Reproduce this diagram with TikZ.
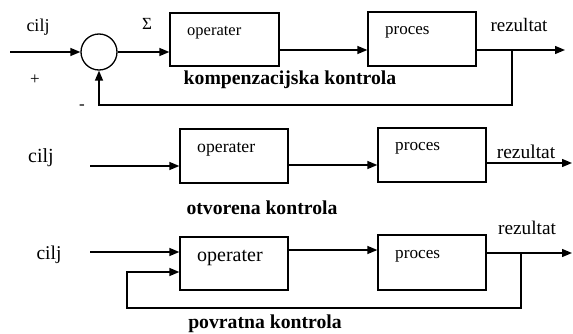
\documentclass[tikz,border=0pt]{standalone}
\usepackage{fontspec}
\setmainfont{Liberation Serif}
\usetikzlibrary{arrows.meta}
\newcommand\fsz[1]{\fontsize{#1}{#1}\selectfont}
\begin{document}
\begin{tikzpicture}[x=1pt,y=-1pt,
  line/.style={line width=1.3pt, draw=black},
  arr/.style={line, -{Triangle[length=10pt,width=8pt]}},
  blk/.style={draw, line width=1.3pt, rectangle, inner sep=0pt},
  txt/.style={inner sep=0pt, font=\fsz{17.5}},
  ttl/.style={inner sep=0pt, font=\fsz{19.7}\bfseries},
]
\useasboundingbox[fill=white] (0,0) rectangle (573,334);

% ---------- kompenzacijska kontrola ----------
\node[draw, circle, line width=1.3pt, minimum size=36pt, inner sep=0pt] (S) at (99,52) {};
\node[blk, minimum width=109pt, minimum height=53pt] (op1) at (224.5,39.5) {};
\node[blk, minimum width=108pt, minimum height=54pt] (pr1) at (422,39) {};
\coordinate (in1) at (10,52);
\coordinate (y1) at (0,50);
\coordinate (out1) at (565,50);
\coordinate (fb1) at (512,50);
\coordinate (fb1b) at (512,105);
\draw[arr] (in1) -- (S);
\draw[arr] (S) -- (S -| op1.west);
\draw[arr] (op1.east |- y1) -- (pr1.west |- y1);
\draw[arr] (pr1.east |- out1) -- (out1);
\draw[arr] (fb1) -- (fb1b) -| (S.south);

\node[txt, font=\fsz{18}] (c1) at (38,27) {cilj};
\node[txt, font=\fsz{17}] (sig) at (147,24) {Σ};
\node[txt, font=\fsz{17}] (plus) at (35,80) {+};
\node[txt, font=\fsz{17}] (minus) at (82,107) {-};
\node[txt, font=\fsz{16.5}, anchor=west] (t1) at (187,33) {operater};
\node[txt, font=\fsz{17}, anchor=west] (p1) at (385,32) {proces};
\node[txt, font=\fsz{19}] (r1) at (519,25) {rezultat};
\node[ttl] (k1) at (290,80) {kompenzacijska kontrola};

% ---------- otvorena kontrola ----------
\node[blk, minimum width=108pt, minimum height=54pt] (op2) at (234,156) {};
\node[blk, minimum width=108pt, minimum height=54pt] (pr2) at (432,155) {};
\coordinate (in2) at (90,166);
\coordinate (y2) at (0,165);
\coordinate (out2) at (572,163);
\draw[arr] (in2) -- (op2.west |- in2);
\draw[arr] (op2.east |- y2) -- (pr2.west |- y2);
\draw[arr] (pr2.east |- out2) -- (out2);

\node[txt, font=\fsz{20}] (c2) at (41,158) {cilj};
\node[txt, font=\fsz{17.7}, anchor=west] (t2) at (197,149) {operater};
\node[txt, font=\fsz{17.2}, anchor=west] (p2) at (395,148) {proces};
\node[txt, font=\fsz{19.5}] (r2) at (526,152) {rezultat};
\node[ttl] (k2) at (262,208) {otvorena kontrola};

% ---------- povratna kontrola ----------
\node[blk, minimum width=108pt, minimum height=53pt] (op3) at (234,263.5) {};
\node[blk, minimum width=108pt, minimum height=55pt] (pr3) at (432,262.5) {};
\coordinate (in3) at (90,252);
\coordinate (y3) at (0,250);
\coordinate (out3) at (572,253);
\coordinate (fb3) at (521,253);
\coordinate (fb3b) at (521,308);
\coordinate (fb3c) at (127,272);
\draw[arr] (in3) -- (op3.west |- in3);
\draw[arr] (op3.east |- y3) -- (pr3.west |- y3);
\draw[arr] (pr3.east |- out3) -- (out3);
\draw[arr] (fb3) -- (fb3b) -| (fb3c) -- (op3.west |- fb3c);

\node[txt, font=\fsz{19.5}] (c3) at (49,255) {cilj};
\node[txt, font=\fsz{20}, anchor=west] (t3) at (197,258) {operater};
\node[txt, font=\fsz{17.2}, anchor=west] (p3) at (395,256) {proces};
\node[txt, font=\fsz{19.3}] (r3) at (527,228) {rezultat};
\node[ttl] (k3) at (265,324) {povratna kontrola};
\end{tikzpicture}
\end{document}
